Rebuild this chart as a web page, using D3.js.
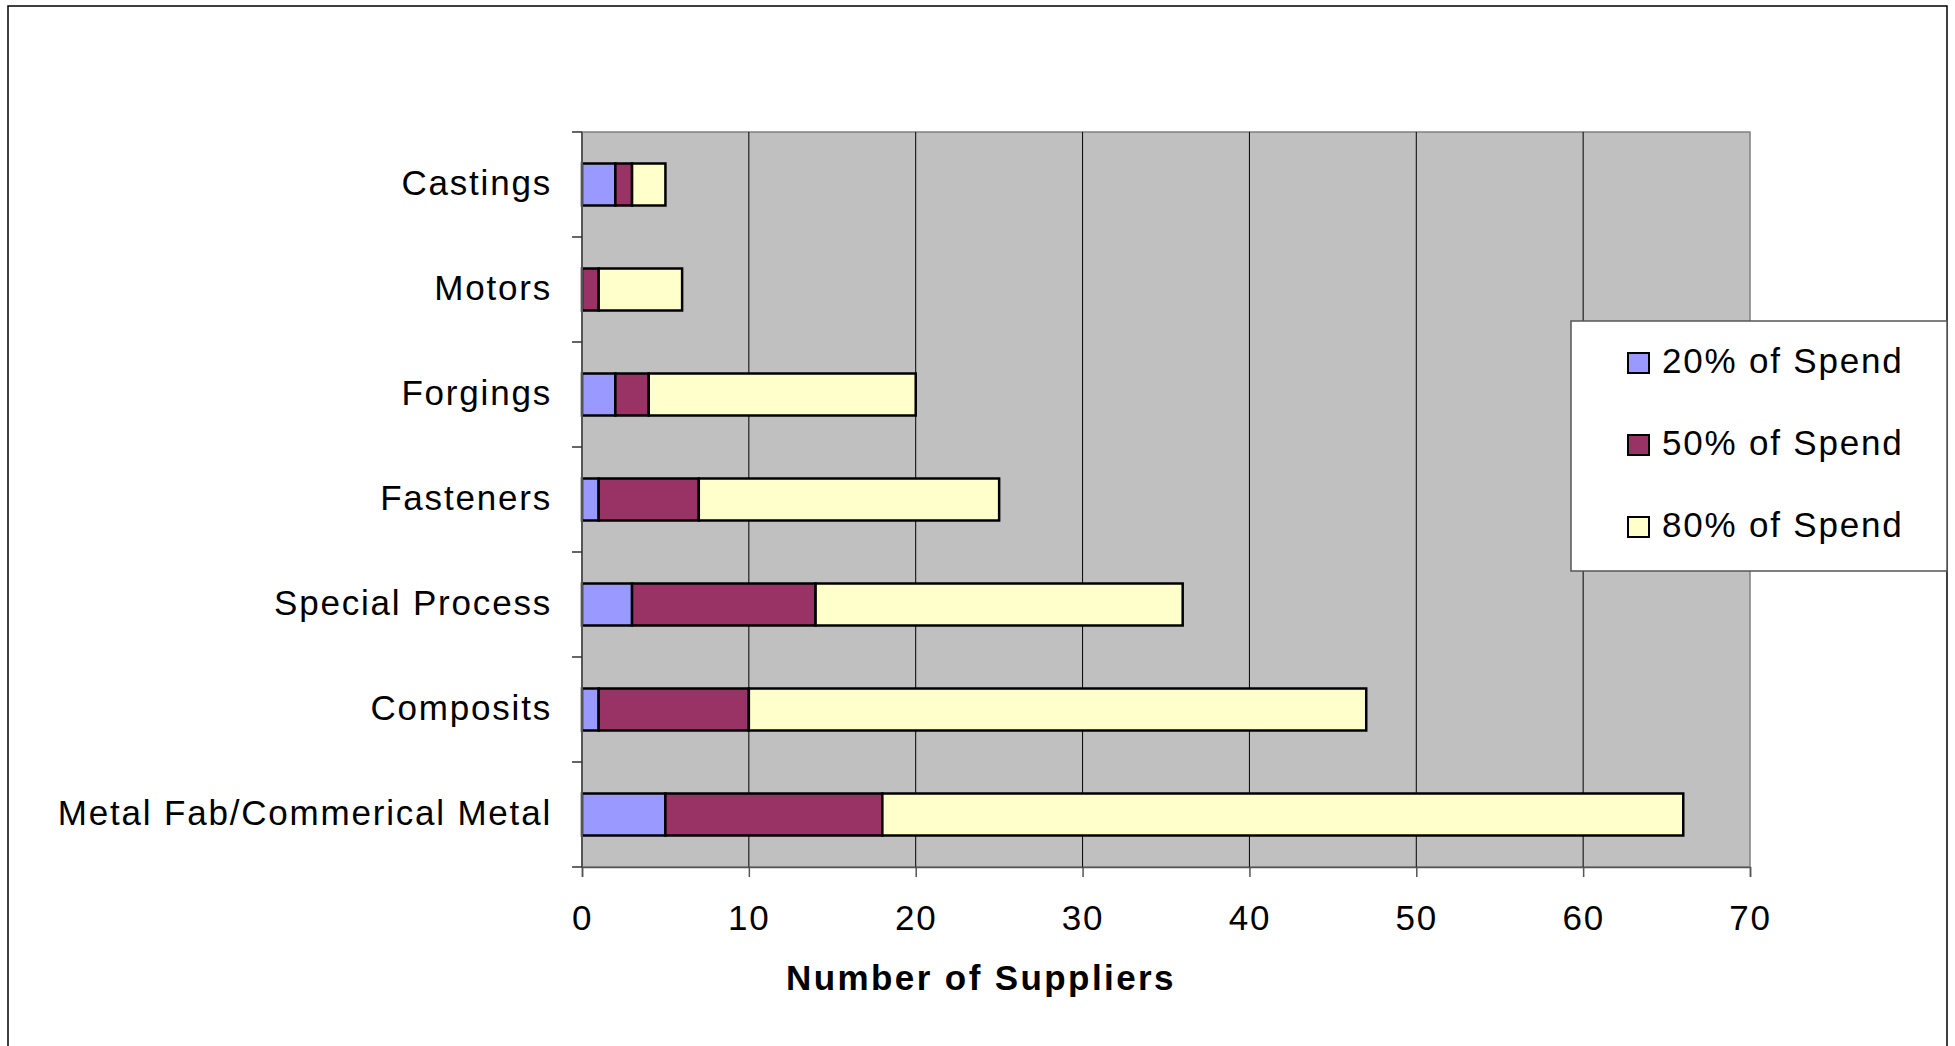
<!DOCTYPE html>
<html>
<head>
<meta charset="utf-8">
<script src="https://cdn.jsdelivr.net/npm/d3@7"></script>
<style>
  html, body { margin: 0; padding: 0; background: #fff; }
  svg { display: block; font-family: "Liberation Sans", Arial, sans-serif; }
</style>
</head>
<body>
<svg id="chart" width="1955" height="1046"></svg>
<script>
// Supplier counts by commodity, split by share of spend
const categories = ["Castings", "Motors", "Forgings", "Fasteners", "Special Process", "Composits", "Metal Fab/Commerical Metal"];
const spend20 = [2, 0, 2, 1, 3, 1, 5];
const spend50 = [1, 1, 2, 6, 11, 9, 13];
const spend80 = [2, 5, 16, 18, 22, 37, 48];
const seriesNames = ["20% of Spend", "50% of Spend", "80% of Spend"];
const seriesColors = ["#9999FF", "#993366", "#FFFFCC"];
const xTicks = [0, 10, 20, 30, 40, 50, 60, 70];
const xTitle = "Number of Suppliers";

const svg = d3.select("#chart");
const plot = { left: 582, right: 1750, top: 132, bottom: 867 };
const fontSize = 35;
const spacing = "1.8px";

// outer frame
svg.append("rect")
  .attr("x", 8).attr("y", 6).attr("width", 1939).attr("height", 1060)
  .attr("fill", "#fff").attr("stroke", "#000").attr("stroke-width", 1.5);

const x = d3.scaleLinear().domain([0, 70]).range([plot.left, plot.right]);
const y = d3.scaleBand().domain(categories).range([plot.top, plot.bottom])
  .paddingInner(0.6).paddingOuter(0.3);

// plot background
svg.append("rect")
  .attr("x", plot.left).attr("y", plot.top)
  .attr("width", plot.right - plot.left).attr("height", plot.bottom - plot.top)
  .attr("fill", "#C0C0C0").attr("stroke", "#808080").attr("stroke-width", 1.5);

// vertical gridlines
svg.append("g").selectAll("line")
  .data(xTicks.slice(1, -1))
  .join("line")
  .attr("x1", d => x(d)).attr("x2", d => x(d))
  .attr("y1", plot.top).attr("y2", plot.bottom)
  .attr("stroke", "#000").attr("stroke-width", 1);

// stacked bars
const rows = categories.map((c, i) => ({ cat: c, s0: spend20[i], s1: spend50[i], s2: spend80[i] }));
const stack = d3.stack().keys(["s0", "s1", "s2"])(rows);

svg.append("g").selectAll("g")
  .data(stack)
  .join("g")
  .attr("fill", (d, i) => seriesColors[i])
  .selectAll("rect")
  .data(d => d.filter(p => p[1] > p[0]))
  .join("rect")
  .attr("x", d => x(d[0]))
  .attr("width", d => x(d[1]) - x(d[0]))
  .attr("y", d => y(d.data.cat))
  .attr("height", y.bandwidth())
  .attr("stroke", "#000").attr("stroke-width", 2.5);

// x axis
const xAxis = svg.append("g")
  .attr("transform", `translate(0,${plot.bottom})`)
  .call(d3.axisBottom(x).tickValues(xTicks).tickSize(10).tickPadding(28));
xAxis.select(".domain").attr("stroke", "#555").attr("stroke-width", 1.5);
xAxis.selectAll(".tick line").attr("stroke", "#555").attr("stroke-width", 1.5);
xAxis.selectAll(".tick text")
  .attr("font-size", fontSize).attr("fill", "#000")
  .attr("letter-spacing", spacing)
  .attr("font-family", "'Liberation Sans', Arial, sans-serif");

// y axis: ticks sit at band boundaries
const yAxisG = svg.append("g").attr("transform", `translate(${plot.left},0)`);
yAxisG.append("line")
  .attr("x1", 0).attr("x2", 0).attr("y1", plot.top).attr("y2", plot.bottom)
  .attr("stroke", "#555").attr("stroke-width", 2);
const boundaries = d3.range(categories.length + 1).map(i => plot.top + i * (plot.bottom - plot.top) / categories.length);
yAxisG.selectAll("line.tk")
  .data(boundaries)
  .join("line").attr("class", "tk")
  .attr("x1", -10).attr("x2", 0)
  .attr("y1", d => d).attr("y2", d => d)
  .attr("stroke", "#333").attr("stroke-width", 1.5);
yAxisG.selectAll("text")
  .data(categories)
  .join("text")
  .attr("x", -30)
  .attr("y", d => y(d) + y.bandwidth() / 2 - 2)
  .attr("dy", "0.35em")
  .attr("text-anchor", "end")
  .attr("font-size", fontSize)
  .attr("letter-spacing", spacing)
  .text(d => d);

// axis title
svg.append("text")
  .attr("x", 981)
  .attr("y", 990)
  .attr("text-anchor", "middle")
  .attr("font-size", fontSize).attr("font-weight", "bold")
  .attr("letter-spacing", "2.4px")
  .text(xTitle);

// legend
const lg = svg.append("g");
lg.append("rect")
  .attr("x", 1571).attr("y", 321).attr("width", 376).attr("height", 250)
  .attr("fill", "#fff").attr("stroke", "#555").attr("stroke-width", 1.5);
const legendY = [363, 445, 527];
seriesNames.forEach((name, i) => {
  lg.append("rect")
    .attr("x", 1628).attr("y", legendY[i] - 10).attr("width", 21).attr("height", 20)
    .attr("fill", seriesColors[i]).attr("stroke", "#000").attr("stroke-width", 2);
  lg.append("text")
    .attr("x", 1662).attr("y", legendY[i] - 2).attr("dy", "0.35em")
    .attr("font-size", fontSize)
    .attr("letter-spacing", spacing)
    .text(name);
});
</script>
</body>
</html>
